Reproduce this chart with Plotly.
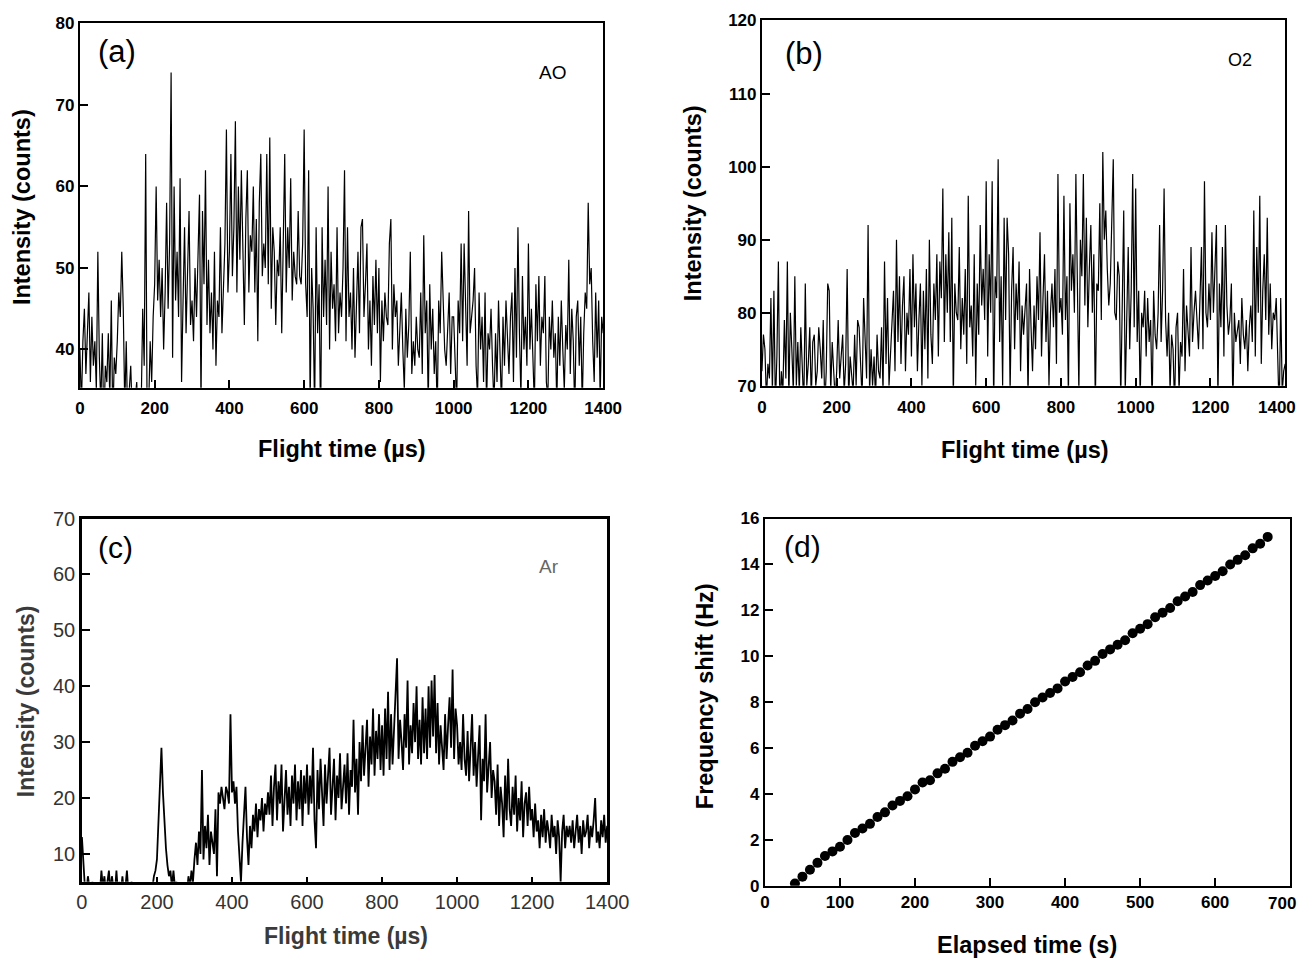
import plotly.graph_objects as go

# ---------------- data ----------------
ao_step = 4  # flight-time bin (µs)
ao_counts = [
    40,33,41,45,37,42,47,36,44,38,41,35,52,39,33,42,30,38,36,42,34,46,31,39,37,
    41,47,44,52,45,33,41,30,35,38,32,28,34,36,31,30,33,45,38,64,30,33,41,36,44,
    48,60,46,51,44,50,40,47,58,45,53,74,39,60,46,52,44,61,36,46,55,42,50,57,43,
    46,41,50,44,52,59,33,57,48,62,43,51,42,47,40,52,38,46,44,55,42,49,53,67,47,
    52,64,49,55,68,47,60,51,62,53,43,56,62,47,54,52,60,47,56,41,58,64,49,53,50,
    64,48,66,45,55,52,43,51,49,55,42,52,64,47,55,50,61,46,52,49,48,57,49,48,53,
    67,48,44,62,33,50,45,32,55,42,48,30,55,44,51,43,60,40,52,45,48,41,55,42,47,
    44,50,62,41,55,44,47,40,50,39,46,52,42,55,56,44,48,53,40,46,38,49,43,51,42,
    50,36,46,41,47,44,43,53,56,40,48,44,46,38,42,47,40,35,45,39,43,52,37,41,38,
    44,40,39,47,37,54,42,46,33,48,40,45,37,41,32,46,42,52,44,40,38,42,47,37,44,
    44,40,33,46,42,53,41,53,45,38,57,42,44,46,50,38,34,47,40,44,36,47,33,42,40,
    45,38,33,42,36,46,40,33,44,38,46,41,37,44,47,36,50,39,55,42,34,49,40,44,38,
    53,40,45,37,33,48,41,49,38,44,42,49,36,34,44,40,46,39,42,33,44,38,46,40,35,
    43,40,51,37,45,41,32,44,46,38,44,33,42,47,45,58,48,50,41,36,47,39,46,34,44,
    42,
]

o2_counts = [
    72,77,75,68,73,71,82,69,83,67,74,87,66,72,69,79,71,87,68,80,75,69,85,70,76,
    69,78,72,67,84,70,73,78,68,76,77,70,72,78,75,71,79,67,72,84,83,69,76,71,68,
    72,79,71,74,77,69,73,86,68,74,71,69,77,70,79,78,73,68,82,75,71,92,69,75,70,
    74,68,77,72,71,78,69,87,73,82,70,75,79,83,72,90,76,85,73,81,85,72,80,77,86,
    74,88,78,84,72,79,84,70,83,75,86,71,90,77,73,84,79,88,74,87,82,97,76,88,80,
    91,76,93,68,84,80,79,89,75,82,77,86,73,96,78,81,74,88,70,84,77,92,81,86,79,
    98,74,88,80,98,67,85,82,101,76,85,70,93,79,93,88,69,83,89,75,84,79,87,72,81,
    77,80,84,68,86,78,72,81,75,85,79,91,74,82,88,76,83,70,80,84,78,86,73,99,80,
    82,77,96,79,85,68,95,83,88,80,99,84,69,90,85,99,81,93,78,86,92,80,88,67,84,
    83,95,79,102,90,94,86,81,84,92,101,80,79,87,85,68,84,94,69,82,89,75,83,99,78,
    97,76,83,68,80,78,83,74,82,76,79,67,83,77,75,80,92,76,83,97,79,74,80,69,77,
    75,67,78,80,69,76,74,86,72,81,78,74,89,76,80,83,79,75,82,89,75,98,80,78,84,
    79,91,80,86,92,68,84,78,89,74,92,81,77,79,84,67,80,76,78,79,73,82,77,75,79,
    72,78,81,76,94,74,89,80,96,73,83,88,79,93,77,84,75,80,79,82,74,66,82,69,72,
    73,
]

ar_counts = [
    13,9,4,3,6,4,3,5,2,3,4,3,3,7,4,6,3,5,7,3,6,4,3,7,3,
    5,3,6,3,4,7,3,2,5,4,3,4,3,2,3,3,4,3,2,3,4,3,4,6,7,
    9,17,24,29,21,15,11,8,6,7,4,7,4,5,3,3,4,3,2,4,3,6,4,7,5,
    9,12,8,14,10,25,9,15,11,17,8,14,12,10,18,6,21,19,22,20,18,22,21,19,35,
    21,23,19,22,14,10,5,12,17,22,13,8,15,11,17,14,19,13,18,16,20,14,19,17,21,
    17,24,15,22,26,16,23,19,26,14,21,25,17,22,15,24,19,26,16,23,18,25,15,24,19,
    26,17,24,19,29,16,11,25,18,27,20,15,26,19,24,29,17,23,27,16,24,20,28,18,22,
    26,19,28,17,25,22,34,21,27,17,30,23,33,24,29,34,22,31,26,36,24,32,27,35,25,
    33,24,36,27,39,25,35,26,33,38,45,27,34,30,25,35,29,41,26,33,28,37,30,40,27,
    34,26,38,28,36,27,40,29,41,31,42,28,37,26,33,29,25,35,27,33,38,29,43,27,36,
    33,26,30,25,35,27,24,32,23,29,35,24,30,22,28,33,16,27,23,35,21,26,30,20,25,
    23,17,26,15,22,19,13,24,16,27,18,15,22,17,24,14,20,16,23,13,19,21,15,22,16,
    18,13,19,14,16,11,17,13,18,12,16,14,11,17,13,15,10,16,13,5,14,17,11,15,13,
    15,12,16,11,14,17,12,15,10,16,13,14,17,11,15,13,16,20,12,14,11,16,13,17,12,
    15,
]

elapsed_s = [40,50,60,70,80,90,100,110,120,130,140,150,160,170,180,190,200,210,220,230,
             240,250,260,270,280,290,300,310,320,330,340,350,360,370,380,390,400,410,420,430,
             440,450,460,470,480,490,500,510,520,530,540,550,560,570,580,590,600,610,620,630,
             640,650,660,670]
freq_shift_hz = [0.1,0.4,0.7,1.0,1.3,1.5,1.7,2.0,2.3,2.5,2.7,3.0,3.2,3.5,3.7,3.9,4.2,4.5,4.6,4.9,
                 5.1,5.4,5.6,5.8,6.1,6.3,6.5,6.8,7.0,7.2,7.5,7.7,8.0,8.2,8.4,8.6,8.9,9.1,9.3,9.6,
                 9.8,10.1,10.3,10.5,10.7,11.0,11.2,11.4,11.7,11.9,12.1,12.4,12.6,12.8,13.1,13.3,13.5,13.7,14.0,14.2,
                 14.4,14.7,14.9,15.2]

ft_ticks = [0, 200, 400, 600, 800, 1000, 1200, 1400]
ft_labels = [str(v) for v in ft_ticks]
et_ticks = [0, 100, 200, 300, 400, 500, 600, 700]
et_labels = [str(v) for v in et_ticks]

# ---------------- figure ----------------
W, H = 1309, 959
# target screen pixel -> paper fraction (compensates the observed capture offset/scale)
def px(x): return ((x - 13) / 0.98) / W
def py(y): return 1 - ((y - 18.5) / 0.98) / H

SANS = "Liberation Sans, Arial, sans-serif"

fig = go.Figure()

def tx(vals): return [i * ao_step for i in range(len(vals))]

fig.add_trace(go.Scatter(x=tx(ao_counts), y=ao_counts, mode="lines",
                         line=dict(color="black", width=1.2), xaxis="x", yaxis="y"))
fig.add_trace(go.Scatter(x=tx(o2_counts), y=o2_counts, mode="lines",
                         line=dict(color="black", width=1.2), xaxis="x2", yaxis="y2"))
fig.add_trace(go.Scatter(x=tx(ar_counts), y=ar_counts, mode="lines",
                         line=dict(color="black", width=1.8), xaxis="x3", yaxis="y3"))
fig.add_trace(go.Scatter(x=elapsed_s, y=freq_shift_hz, mode="markers",
                         marker=dict(color="black", size=10), xaxis="x4", yaxis="y4"))

bold_tick = dict(family=SANS, size=17, color="black", weight="bold")
c_tick = dict(family=SANS, size=20, color="#333333")

def axis(domain, anchor, rng, tickvals, font, lw=2, ticklen=8, ticktext=None, standoff=None):
    d = dict(domain=domain, anchor=anchor, range=rng, tickvals=tickvals,
             showgrid=False, zeroline=False, showline=True, linecolor="black",
             linewidth=lw, mirror=True, ticks="inside", ticklen=ticklen,
             tickwidth=2, tickcolor="black", tickfont=font)
    if ticktext is not None:
        d["ticktext"] = ticktext
    if standoff is not None:
        d["ticklabelstandoff"] = standoff
    return d

fig.update_layout(
    width=W, height=H, margin=dict(l=0, r=0, t=0, b=0),
    paper_bgcolor="white", plot_bgcolor="white", showlegend=False,
    xaxis=axis([px(79), px(603)], "y", [0, 1400], ft_ticks, bold_tick, standoff=4),
    yaxis=axis([py(388), py(23)], "x", [35.3, 80], [40, 50, 60, 70, 80], bold_tick),
    xaxis2=axis([px(762), px(1286)], "y2", [0, 1400], ft_ticks, bold_tick,
                ticktext=ft_labels[:-1] + [""], standoff=5),
    yaxis2=axis([py(386), py(20)], "x2", [70, 120], [70, 80, 90, 100, 110, 120], bold_tick),
    xaxis3=axis([px(81), px(607)], "y3", [0, 1400], ft_ticks, c_tick, lw=2.5, ticklen=5),
    yaxis3=axis([py(883), py(519)], "x3", [5, 70], [10, 20, 30, 40, 50, 60, 70], c_tick, lw=2.5),
    xaxis4=axis([px(765), px(1291)], "y4", [0, 700], et_ticks, bold_tick,
                ticktext=et_labels[:-1] + [""]),
    yaxis4=axis([py(887), py(519)], "x4", [0, 16], [0, 2, 4, 6, 8, 10, 12, 14, 16], bold_tick),
)

ann = []
def label(text, x, y, size, color="black", weight="normal", angle=0, xanchor="center"):
    ann.append(dict(text=text, x=px(x), y=py(y), xref="paper", yref="paper",
                    showarrow=False, textangle=angle, xanchor=xanchor, yanchor="middle",
                    font=dict(family=SANS, size=size, color=color, weight=weight)))

# last x tick labels of the right column, kept inside the page
label(ft_labels[-1], 1299, 408, 17, weight="bold", xanchor="right")
label(et_labels[-1], 1299, 905, 17, weight="bold", xanchor="right")

# axis titles
label("Flight time (µs)", 341, 449, 23.5, weight="bold")
label("Intensity (counts)", 21, 207, 23.5, weight="bold", angle=-90)
label("Flight time (µs)", 1025, 450, 23.5, weight="bold")
label("Intensity (counts)", 693, 203, 23.5, weight="bold", angle=-90)
label("Flight time (µs)", 345, 937, 23, color="#3a3a3a", weight="bold")
label("Intensity (counts)", 25, 702, 23, color="#3a3a3a", weight="bold", angle=-90)
label("Elapsed time (s)", 1027, 946, 23.5, weight="bold")
label("Frequency shift (Hz)", 705, 697, 23.5, weight="bold", angle=-90)

# panel letters and species
label("(a)", 116, 51, 31)
label("AO", 552, 72, 19)
label("(b)", 804, 53, 31)
label("O2", 1241, 60, 18)
label("(c)", 115, 548, 30)
label("Ar", 549, 567, 19, color="#666666")
label("(d)", 803, 547, 30)

fig.update_layout(annotations=ann)
fig.write_html("out.html")
